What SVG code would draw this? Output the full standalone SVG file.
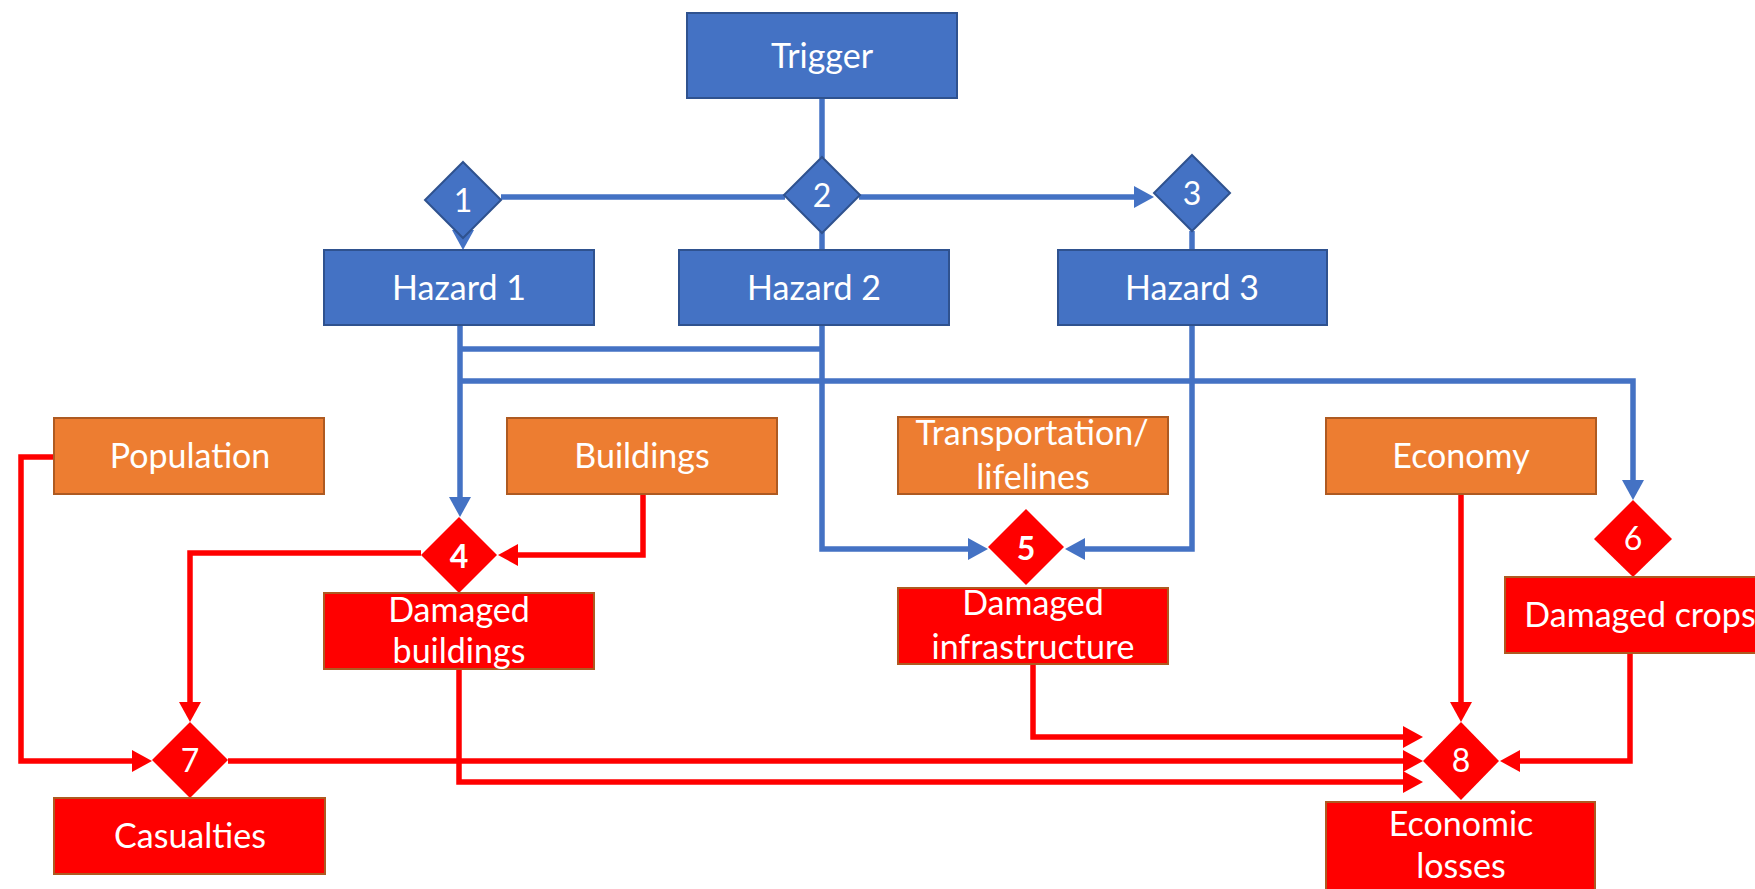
<svg xmlns="http://www.w3.org/2000/svg" width="1755" height="889" viewBox="0 0 1755 889">
  <style>
    .blue { fill: #4472C4; stroke: #2F528F; stroke-width: 2; }
    .orange { fill: #ED7D31; stroke: #AE5A21; stroke-width: 2; }
    .red { fill: #FF0000; stroke: #AE5A21; stroke-width: 2; }
    .dred { fill: #FF0000; stroke: none; }
    text { font-family: Lato, "Open Sans", "Liberation Sans", sans-serif; font-size: 34px; fill: #FFFFFF; text-anchor: middle; }
    .num { font-size: 32px; }
    .bold { font-weight: bold; }
    .cb { fill: none; stroke: #4472C4; stroke-width: 5.5; stroke-linejoin: miter; }
    .cr { fill: none; stroke: #FF0000; stroke-width: 5.5; stroke-linejoin: miter; }
  </style>
  <defs>
    <marker id="ab" viewBox="0 0 20 22" refX="10" refY="11" markerWidth="20" markerHeight="22" markerUnits="userSpaceOnUse" orient="auto">
      <path d="M0,0 L20,11 L0,22 Z" fill="#4472C4"/>
    </marker>
    <marker id="ar" viewBox="0 0 20 22" refX="10" refY="11" markerWidth="20" markerHeight="22" markerUnits="userSpaceOnUse" orient="auto">
      <path d="M0,0 L20,11 L0,22 Z" fill="#FF0000"/>
    </marker>
  </defs>

  <!-- connectors -->
  <g id="connectors">
    <!-- hazard tree -->
    <path class="cb" d="M822,98 V158"/>
    <path class="cb" d="M501,197 H785"/>
    <path class="cb" d="M463,236 V240" marker-end="url(#ab)"/>
    <path class="cb" d="M859,197 H1144" marker-end="url(#ab)"/>
    <path class="cb" d="M822,232 V250"/>
    <path class="cb" d="M1192,231 V250"/>
    <!-- hazards to vulnerabilities -->
    <path class="cb" d="M460,325 V507" marker-end="url(#ab)"/>
    <path class="cb" d="M822,349 H460"/>
    <path class="cb" d="M822,325 V549 H978" marker-end="url(#ab)"/>
    <path class="cb" d="M1192,325 V549 H1075" marker-end="url(#ab)"/>
    <path class="cb" d="M460,381 H1633 V490" marker-end="url(#ab)"/>
    <!-- damage and losses -->
    <path class="cr" d="M643,494 V555 H508" marker-end="url(#ar)"/>
    <path class="cr" d="M421,553 H190 V712" marker-end="url(#ar)"/>
    <path class="cr" d="M54,457 H21 V761 H142" marker-end="url(#ar)"/>
    <path class="cr" d="M228,761 H1413" marker-end="url(#ar)"/>
    <path class="cr" d="M459,669 V782 H1413" marker-end="url(#ar)"/>
    <path class="cr" d="M1033,664 V737 H1413" marker-end="url(#ar)"/>
    <path class="cr" d="M1461,494 V712" marker-end="url(#ar)"/>
    <path class="cr" d="M1630,653 V761 H1510" marker-end="url(#ar)"/>
  </g>

  <!-- trigger and hazards -->
  <g id="trigger">
    <rect class="blue" x="687" y="13" width="270" height="85"/>
    <text x="822" y="68">Trigger</text>
  </g>
  <g id="d1">
    <polygon class="blue" points="463,162 501,200 463,238 425,200"/>
    <text class="num" x="463" y="212">1</text>
  </g>
  <g id="d2">
    <polygon class="blue" points="822,157 860,195 822,233 784,195"/>
    <text class="num" x="822" y="207">2</text>
  </g>
  <g id="d3">
    <polygon class="blue" points="1192,155 1230,193 1192,231 1154,193"/>
    <text class="num" x="1192" y="205">3</text>
  </g>
  <g id="hazard1">
    <rect class="blue" x="324" y="250" width="270" height="75"/>
    <text x="459" y="300">Hazard 1</text>
  </g>
  <g id="hazard2">
    <rect class="blue" x="679" y="250" width="270" height="75"/>
    <text x="814" y="300">Hazard 2</text>
  </g>
  <g id="hazard3">
    <rect class="blue" x="1058" y="250" width="269" height="75"/>
    <text x="1192" y="300">Hazard 3</text>
  </g>

  <!-- exposed elements -->
  <g id="population">
    <rect class="orange" x="54" y="418" width="270" height="76"/>
    <text x="190" y="468">Population</text>
  </g>
  <g id="buildings">
    <rect class="orange" x="507" y="418" width="270" height="76"/>
    <text x="642" y="468">Buildings</text>
  </g>
  <g id="transportation">
    <rect class="orange" x="898" y="417" width="270" height="77"/>
    <text x="1032" y="445">Transportation/</text>
    <text x="1033" y="489">lifelines</text>
  </g>
  <g id="economy">
    <rect class="orange" x="1326" y="418" width="270" height="76"/>
    <text x="1461" y="468">Economy</text>
  </g>

  <!-- damage nodes -->
  <g id="d4">
    <polygon class="dred" points="459,517 497,555 459,593 421,555"/>
    <text class="num bold" x="459" y="568">4</text>
  </g>
  <g id="d5">
    <polygon class="dred" points="1026,509 1064,547 1026,585 988,547"/>
    <text class="num bold" x="1026" y="560">5</text>
  </g>
  <g id="d6">
    <polygon class="dred" points="1633,500 1672,539 1633,577 1594,539"/>
    <text class="num" x="1633" y="550">6</text>
  </g>
  <g id="damaged-buildings">
    <rect class="red" x="324" y="593" width="270" height="76"/>
    <text x="459" y="622">Damaged</text>
    <text x="459" y="663">buildings</text>
  </g>
  <g id="damaged-infrastructure">
    <rect class="red" x="898" y="588" width="270" height="76"/>
    <text x="1033" y="615">Damaged</text>
    <text x="1033" y="659">infrastructure</text>
  </g>
  <g id="damaged-crops">
    <rect class="red" x="1505" y="577" width="270" height="76"/>
    <text x="1640" y="627">Damaged crops</text>
  </g>

  <!-- losses -->
  <g id="d7">
    <polygon class="dred" points="190,722 228,760 190,798 152,760"/>
    <text class="num" x="190" y="772">7</text>
  </g>
  <g id="d8">
    <polygon class="dred" points="1461,722 1499,761 1461,800 1423,761"/>
    <text class="num" x="1461" y="772">8</text>
  </g>
  <g id="casualties">
    <rect class="red" x="54" y="798" width="271" height="76"/>
    <text x="190" y="848">Casualties</text>
  </g>
  <g id="economic-losses">
    <rect class="red" x="1326" y="802" width="269" height="100"/>
    <text x="1461" y="836">Economic</text>
    <text x="1461" y="878">losses</text>
  </g>
</svg>
